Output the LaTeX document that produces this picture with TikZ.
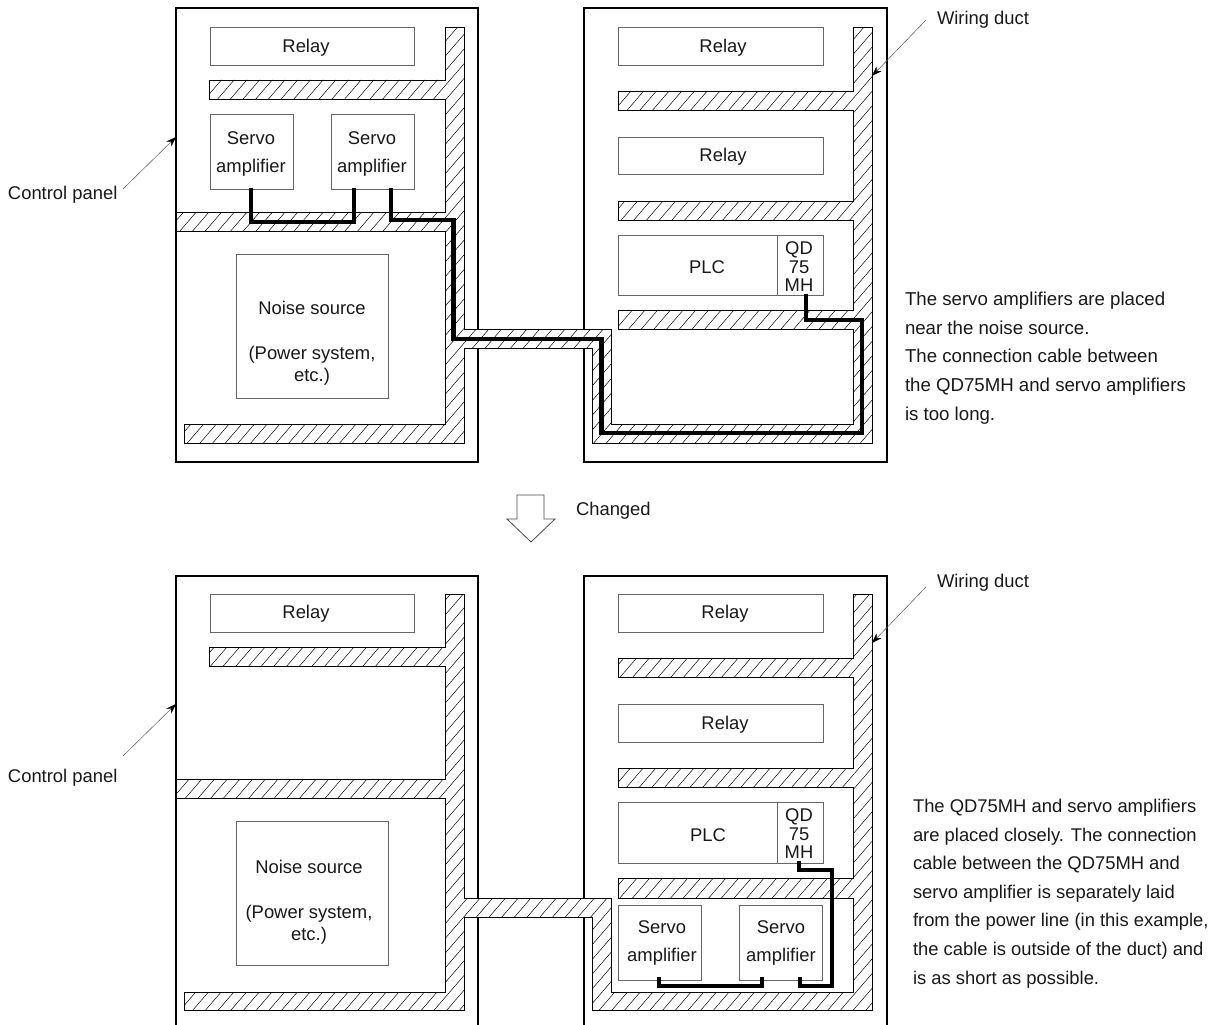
\documentclass[tikz,border=0pt]{standalone}
\usepackage{fontspec}
\setmainfont{Liberation Sans}
\usetikzlibrary{arrows.meta}
\tikzset{
  panelline/.style={draw=black,line width=1.15pt},
  boxst/.style={draw=black!60,line width=0.8pt,fill=white,inner sep=0pt,outer sep=0pt},
  ductline/.style={draw=black,line width=0.95pt,line join=miter},
  hatchline/.style={draw=black,line width=0.48pt},
  cable/.style={draw=black,line width=4.8pt,line join=miter},
  leader/.style={draw=black!70,line width=0.45pt,-{Stealth[length=10pt,width=7pt,black]}},
  txt/.style={inner sep=0pt,outer sep=0pt,font=\fontsize{18.4}{22.5}\selectfont,align=center,text=black!90},
  dtxt/.style={txt,yshift=-2pt},
  qdtxt/.style={txt,font=\fontsize{18.4}{18.5}\selectfont},
  servotxt/.style={txt,yshift=-2pt,font=\fontsize{18.4}{28.5}\selectfont},
  notetxt/.style={inner sep=0pt,outer sep=0pt,yshift=-2pt,font=\fontsize{18.4}{28.6}\selectfont,align=left,text=black!90},
  notewide/.style={notetxt,font=\fontsize{18.65}{28.6}\selectfont},
  blockarrow/.style={draw=black!70,line width=0.8pt,fill=white}
}
\newcommand{\ductdraw}[1]{%
  \fill[white] #1;
  \begin{scope}
    \clip #1;
    \foreach \i in {0,...,170}{
      \pgfmathsetmacro{\cc}{100+12.7*\i}
      \draw[hatchline] (\cc,0) -- ({\cc-950},1100);
    }
  \end{scope}
  \draw[ductline] #1;
}
\newcommand{\boxnode}[5]{%
  \pgfmathsetmacro{\bw}{#4-#2}\pgfmathsetmacro{\bh}{#5-#3}
  \pgfmathsetmacro{\bx}{(#4+#2)/2}\pgfmathsetmacro{\by}{(#5+#3)/2}
  \node[boxst,minimum width=\bw pt,minimum height=\bh pt] (#1) at (\bx,\by) {};
}
\begin{document}
\begin{tikzpicture}[x=1pt,y=-1pt]
\useasboundingbox (0,0) rectangle (1219,1025);
\fill[white] (0,0) rectangle (1219,1025);

% panels
\draw[panelline] (176,8) rectangle (478,462);
\draw[panelline] (584,8) rectangle (887,462);
\draw[panelline] (176,1025) -- (176,576) -- (478,576) -- (478,1025);
\draw[panelline] (584,1025) -- (584,576) -- (887,576) -- (887,1025);

% ducts
\ductdraw{(445,27) -- (464,27) -- (464,329) -- (611,329) -- (611,424) -- (853,424) -- (853,329) -- (618,329) -- (618,310) -- (853,310) -- (853,220) -- (618,220) -- (618,201) -- (853,201) -- (853,110) -- (618,110) -- (618,91) -- (853,91) -- (853,27) -- (872,27) -- (872,443) -- (592,443) -- (592,348) -- (464,348) -- (464,443) -- (184,443) -- (184,424) -- (445,424) -- (445,231) -- (176,231) -- (176,212) -- (445,212) -- (445,99) -- (209,99) -- (209,80) -- (445,80) -- cycle}
\ductdraw{(445,594) -- (464,594) -- (464,898) -- (611,898) -- (611,992) -- (853,992) -- (853,898) -- (618,898) -- (618,878) -- (853,878) -- (853,787) -- (618,787) -- (618,768) -- (853,768) -- (853,677) -- (618,677) -- (618,658) -- (853,658) -- (853,594) -- (872,594) -- (872,1010) -- (592,1010) -- (592,917) -- (464,917) -- (464,1010) -- (184,1010) -- (184,992) -- (445,992) -- (445,798) -- (176,798) -- (176,779) -- (445,779) -- (445,666) -- (209,666) -- (209,647) -- (445,647) -- cycle}

% upper boxes
\boxnode{relayA}{210}{27.5}{414}{65}
\boxnode{servoA}{210}{114}{293}{189}
\boxnode{servoB}{331}{114}{414}{189}
\boxnode{noiseA}{236}{254}{388}{398}
\boxnode{relayB}{618}{27.5}{823}{65}
\boxnode{relayC}{618}{137}{823}{174}
\boxnode{plcA}{618}{235}{777}{295}
\boxnode{qdA}{777}{235}{823}{295}
% lower boxes
\boxnode{relayD}{210}{594}{414}{632}
\boxnode{noiseB}{236}{821}{388}{965}
\boxnode{relayE}{618}{594}{823}{632}
\boxnode{relayF}{618}{704}{823}{742}
\boxnode{plcB}{618}{802}{777}{863}
\boxnode{qdB}{777}{802}{823}{863}
\boxnode{servoC}{618}{905}{701}{980}
\boxnode{servoD}{739}{905}{822}{980}

% box texts
\node[dtxt] (tRelayA) at (306,46) {Relay};
\node[dtxt] (tRelayB) at (723,46) {Relay};
\node[dtxt] (tRelayC) at (723,155) {Relay};
\node[dtxt] (tRelayD) at (306,612) {Relay};
\node[dtxt] (tRelayE) at (725,612) {Relay};
\node[dtxt] (tRelayF) at (725,723) {Relay};
\node[servotxt] (tServoA) at (251,152) {Servo\\amplifier};
\node[servotxt] (tServoB) at (372,152) {Servo\\amplifier};
\node[servotxt] (tServoC) at (662,941) {Servo\\amplifier};
\node[servotxt] (tServoD) at (781,941) {Servo\\amplifier};
\node[dtxt] (tNoiseA) at (312,341) {Noise source\\[22.5pt](Power system,\\etc.)};
\node[dtxt] (tNoiseB) at (309,900) {Noise source\\[22.5pt](Power system,\\etc.)};
\node[txt] (tPlcA) at (707,267) {PLC};
\node[txt] (tPlcB) at (708,835) {PLC};
\node[qdtxt] (tQdA) at (799,267) {QD\\75\\MH};
\node[qdtxt] (tQdB) at (799,834) {QD\\75\\MH};

% cables
\coordinate (a1) at (251,188);
\coordinate (a2) at (354,188);
\coordinate (b1) at (391,188);
\coordinate (b2) at (806,294);
\draw[cable] (a1) -- (251,222) -- (354,222) -- (a2);
\draw[cable] (b1) -- (391,220) -- (453.5,220) -- (453.5,339) -- (601.5,339) -- (601.5,433) -- (862,433) -- (862,320) -- (806,320) -- (b2);
\coordinate (c1) at (659,977);
\coordinate (c2) at (762,977);
\coordinate (d1) at (799,861);
\coordinate (d2) at (800,977);
\draw[cable] (c1) -- (659,986) -- (762,986) -- (c2);
\draw[cable] (d1) -- (799,870) -- (832,870) -- (832,986) -- (800,986) -- (d2);

% labels and leaders
\node[dtxt,anchor=west] (cpA) at (8,193) {Control panel};
\node[dtxt,anchor=west] (cpB) at (8,776) {Control panel};
\node[txt,anchor=west,yshift=-1pt] (wdA) at (937,19) {Wiring duct};
\node[txt,anchor=west,yshift=-1pt] (wdB) at (937,582) {Wiring duct};
\coordinate (tipA) at (176,137);
\coordinate (tipB) at (176,704);
\coordinate (tipC) at (872,76);
\coordinate (tipD) at (872,643);
\coordinate (startA) at (123,189);
\coordinate (startB) at (123,756);
\coordinate (startC) at (926,20);
\coordinate (startD) at (926,587);
\draw[leader] (startA) -- (tipA);
\draw[leader] (startB) -- (tipB);
\draw[leader] (startC) -- (tipC);
\draw[leader] (startD) -- (tipD);

% changed arrow
\draw[blockarrow] (517,495) -- (544,495) -- (544,519) -- (555,519) -- (531,542) -- (507,519) -- (517,519) -- cycle;
\node[dtxt,anchor=west] (chg) at (576,509) {Changed};

% notes
\node[notewide,anchor=west] (noteA) at (905,356) {The servo amplifiers are placed\\near the noise source.\\The connection cable between\\the QD75MH and servo amplifiers\\is too long.};
\node[notetxt,anchor=west] (noteB) at (913,891.5) {The QD75MH and servo amplifiers\\are placed closely. The connection\\cable between the QD75MH and\\servo amplifier is separately laid\\from the power line (in this example,\\the cable is outside of the duct) and\\is as short as possible.};
\end{tikzpicture}
\end{document}
